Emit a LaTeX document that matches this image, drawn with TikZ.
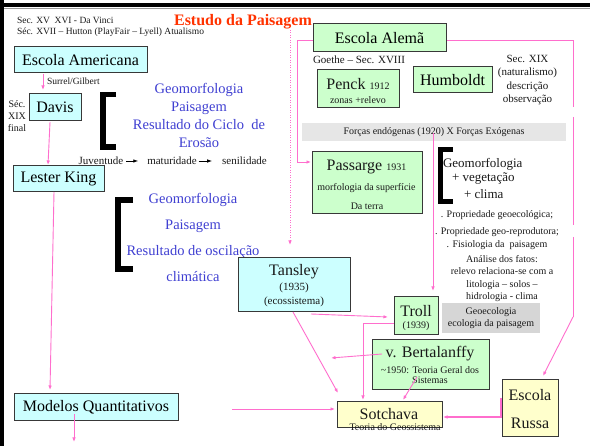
\documentclass[tikz,border=0pt]{standalone}
\usepackage{fontspec}
\setmainfont{Liberation Serif}
\usetikzlibrary{arrows.meta,calc}

\definecolor{pinkln}{RGB}{255,110,205}
\definecolor{boxcyan}{RGB}{204,255,255}
\definecolor{boxgreen}{RGB}{204,255,204}
\definecolor{boxyellow}{RGB}{255,255,204}
\definecolor{bandgray}{RGB}{230,230,230}
\definecolor{notegray}{RGB}{214,214,214}
\definecolor{bluetxt}{RGB}{64,64,210}
\definecolor{titlered}{RGB}{255,51,0}

\newcommand\fsz[2]{\fontsize{#1}{#2}\selectfont}

\tikzset{
  bx/.style={draw=black!78, line width=1pt, inner sep=0pt, outer sep=0pt},
  cyanbox/.style={bx, fill=boxcyan},
  greenbox/.style={bx, fill=boxgreen},
  yellowbox/.style={bx, fill=boxyellow},
  txt/.style={inner sep=0pt, outer sep=0pt, text=black!90},
  big/.style={font=\fsz{16pt}{19pt}},
  md/.style={font=\fsz{11pt}{13.5pt}},
  sm/.style={font=\fsz{10pt}{12pt}},
  pl/.style={draw=pinkln, line width=0.9pt},
  pa/.style={pl, -{Latex[length=4.5pt,width=3.5pt]}},
  brk/.style={line width=5.5pt, line join=miter},
  blk/.style={line width=0.8pt, -{Latex[length=5pt,width=3.5pt]}},
}

\begin{document}
\begin{tikzpicture}[x=1pt,y=-1pt]
\useasboundingbox (0,0) rectangle (590,446);
\fill[white] (0,0) rectangle (590,446);

% page frame
\draw[line width=3.5pt] (0,5) -- (590,5);
\draw[black!40, line width=0.5pt] (0,8.5) -- (590,8.5);
\draw[line width=3.5pt] (2,0) -- (2,446);

% heading
\node[txt, anchor=base west, font=\fsz{9.5pt}{11pt}] (h1) at (17,24) {Sec. XV\ \ XVI - Da Vinci};
\node[txt, anchor=base west, font=\fsz{9.5pt}{11pt}] (h2) at (17,35) {Séc. XVII – Hutton (PlayFair – Lyell) Atualismo};
\node[inner sep=0pt, anchor=base, font=\bfseries\fsz{16pt}{19pt}, text=titlered] (title) at (243,26) {Estudo da Paisagem};

% frame around the German school (drawn first, it runs behind the box)
\coordinate (frtl) at (297,40);
\coordinate (frtr) at (573,40);
\coordinate (frl) at (297,162);
\draw[pl] (573,107) -- (frtr) -- (frtl) -- (frl);
\draw[pl] (573,117) -- (573,225);
\draw[pl] (573,237) -- (573,317);
\coordinate (frbr) at (573,317);

% American school
\node[cyanbox, big, minimum width=133pt, minimum height=26pt] (amer) at (80.5,60) {Escola Americana};
\node[txt, font=\fsz{9.5pt}{11pt}, anchor=west] (surrel) at (47,81) {Surrel/Gilbert};
\node[cyanbox, big, minimum width=52pt, minimum height=27pt] (davis) at (55,107.5) {Davis};
\node[txt, sm, align=center] (sec19l) at (17,116) {Séc.\\XIX\\final};
\node[cyanbox, big, minimum width=91pt, minimum height=26pt] (lester) at (58.5,179) {Lester King};
\node[cyanbox, big, minimum width=164pt, minimum height=27pt] (modelos) at (96,407.5) {Modelos Quantitativos};

% Davis: cycle of erosion
\draw[brk] (116,94.5) -- (103,94.5) -- (103,147) -- (116,147);
\node[txt, text=bluetxt, font=\fsz{14.5pt}{18pt}, align=center] (geo1) at (199,115)
  {Geomorfologia\\Paisagem\\Resultado do Ciclo\ \ de\\Erosão};
\node[txt, md] (juv) at (101,161) {Juventude};
\node[txt, md] (mat) at (172,161) {maturidade};
\node[txt, md] (sen) at (244.5,161) {senilidade};
\draw[blk, shorten <=3pt, shorten >=9pt] (juv.east) -- (mat.west);
\draw[blk, shorten <=2pt, shorten >=10pt] (mat.east) -- (sen.west);

% King: climatic oscillation
\draw[brk, line width=6pt] (133,200.5) -- (117.5,200.5) -- (117.5,269.5) -- (133,269.5);
\node[txt, text=bluetxt, font=\fsz{14.5pt}{26pt}, align=center] (geo2) at (193,237)
  {Geomorfologia\\Paisagem\\Resultado de oscilação\\climática};

% German school
\node[greenbox, big, minimum width=133pt, minimum height=28pt] (alema) at (379.5,38) {Escola Alemã};
\node[txt, md] (goethe) at (359,60) {Goethe – Sec. XVIII};
\node[greenbox, minimum width=82pt, minimum height=38pt] (penck) at (358,89) {};
\node[txt] (penckt) at (358,84) {\fsz{16pt}{19pt}Penck \fsz{10pt}{12pt}1912};
\node[txt, sm] (penckz) at (358,100) {zonas +relevo};
\node[greenbox, big, minimum width=79pt, minimum height=26pt] (humb) at (452.5,80) {Humboldt};
\node[txt, md, align=center] (sec19r) at (527.5,80) {Sec. XIX\\(naturalismo)\\descrição\\observação};

\node[fill=bandgray, minimum width=264pt, minimum height=18pt, inner sep=0pt, sm, text=black!90] (band) at (434,132)
  {Forças endógenas (1920) X Forças Exógenas};

\node[greenbox, minimum width=110pt, minimum height=62pt] (passarge) at (367,183) {};
\node[txt] (passt) at (366.5,167) {\fsz{16pt}{19pt}Passarge \fsz{10pt}{12pt}1931};
\node[txt, sm] (passm) at (366.5,188) {morfologia da superfície};
\node[txt, sm] (passd) at (367,206) {Da terra};

\draw[brk, line width=5pt] (453,150) -- (440.5,150) -- (440.5,201.5) -- (453,201.5);
\node[txt, font=\fsz{13pt}{15pt}, anchor=west] (gm3) at (443,164) {Geomorfologia};
\node[txt, font=\fsz{13pt}{15pt}, anchor=west] (veg) at (452,179) {+ vegetação};
\node[txt, font=\fsz{13pt}{15pt}, anchor=west] (clima) at (464,194) {+ clima};

\node[txt, sm] (prop1) at (497,215) {. Propriedade geoecológica;};
\node[txt, font=\fsz{10pt}{13pt}, align=center] (prop2) at (497,238.5)
  {. Propriedade geo-reprodutora;\\. Fisiologia da\ \ paisagem};
\node[txt, font=\fsz{10pt}{12.3pt}, align=center] (anal) at (502,278.5)
  {Análise dos fatos:\\relevo relaciona-se com a\\litologia – solos –\\hidrologia - clima};

\node[fill=notegray, minimum width=98pt, minimum height=30pt, inner sep=0pt, text=black!90,
  font=\fsz{10pt}{12.5pt}, align=center] (geoeco) at (491,318) {Geoecologia\\ecologia da paisagem};

% systems
\node[cyanbox, minimum width=112pt, minimum height=54pt] (tansley) at (294,285) {};
\node[txt, big] (tanst) at (294,272) {Tansley};
\node[txt, md] (tansy) at (294,288) {(1935)};
\node[txt, md] (tanse) at (294,302) {(ecossistema)};

\node[greenbox, minimum width=44pt, minimum height=38pt] (troll) at (416,316) {};
\node[txt, big] (trollt) at (416,311) {Troll};
\node[txt, sm] (trolly) at (416,326) {(1939)};

\node[greenbox, minimum width=117pt, minimum height=50pt] (bert) at (430.5,365) {};
\node[txt, big] (bertt) at (430,354) {v. Bertalanffy};
\node[txt, font=\fsz{10pt}{10.5pt}, align=center] (bertd) at (430,375) {\textasciitilde 1950: Teoria Geral dos\\Sistemas};

\node[yellowbox, minimum width=105pt, minimum height=26pt] (sotchava) at (389.5,415) {};
\node[txt, big] (sott) at (389,414) {Sotchava};
\node[txt, sm] (sotd) at (395,427.5) {Teoria do Geossistema};

\node[yellowbox, minimum width=56pt, minimum height=57pt] (russa) at (530,408.5) {};
\node[txt, font=\fsz{16pt}{28pt}, align=center] (russat) at (530,409.5) {Escola\\Russa};

% connectors
\draw[pa] ($(amer.south west)+(29,1)$) -- ($(davis.north west)+(14,-4)$);
\draw[pa] ($(davis.south west)+(21,1)$) -- ($(lester.north west)+(35,-1)$);
\draw[pa] ($(lester.south west)+(41,0)$) -- ($(modelos.north west)+(36,-4)$);
\coordinate (modout) at (74,442);
\draw[pa] ($(modelos.south west)+(60,-7)$) -- (modout);
\coordinate (qin) at (232,409);
\draw[pa] (qin) -- ($(sotchava.west)+(-2,-6)$);

\coordinate (dtop) at (290,30);
\draw[pa, dash pattern=on 1pt off 1.5pt] (dtop) -- ($(tansley.north)+(-4,-13)$);

\draw[pa] (frl) -- ($(passarge.west)+(-1,-21)$);
\draw[pa] (frbr) -- ($(russa.north)+(13,-4)$);
\draw[pa] ($(band.center)+(-1,1)$) -- ($(troll.north east)+(-5,-6)$);

\draw[pa] ($(tansley.south)+(17,2)$) -- ($(troll.west)+(-6,1)$);
\draw[pa] ($(troll.west)+(0,7)$) -| ($(sotchava.north west)+(26,-2)$);
\draw[pa] ($(tansley.south)+(-1,0)$) -- ($(sotchava.north west)+(1,-9)$);
\coordinate (bertout) at (331,358);
\draw[pa] ($(bert.west)+(10,-11)$) -- (bertout);
\draw[pa] ($(bert.south)+(-13.5,-13)$) -- ($(sotchava.north)+(13.5,-2)$);
\draw[pa, line width=1.3pt] ($(russa.west)+(-1,-10.5)$) |- ($(sotchava.east)+(1,2)$);

\end{tikzpicture}
\end{document}
